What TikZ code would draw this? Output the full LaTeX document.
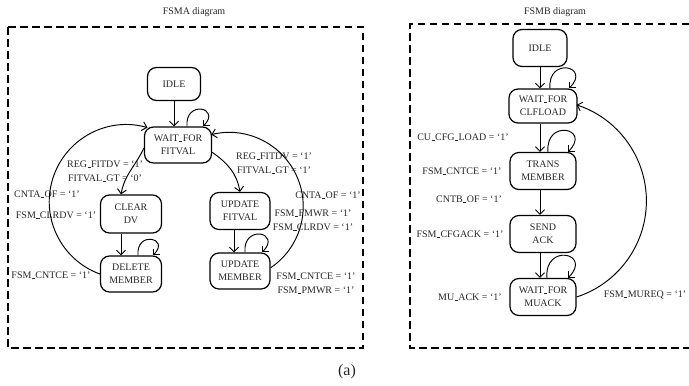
\documentclass[tikz,border=0pt]{standalone}
\usepackage{fontspec}
\setmainfont{Liberation Serif}
\usetikzlibrary{arrows.meta}
\newcommand\us{\kern0.04em\rule[-0.2pt]{0.32em}{0.9pt}\kern0.04em}
\tikzset{
  st/.style={draw, line width=1.2pt, rounded corners=9pt, align=center, inner sep=0pt,
    font=\fontsize{10}{13}\selectfont, text=black!85},
  arr/.style={line width=0.95pt, -{Straight Barb[length=4.5pt,width=9pt]}},
  lbl/.style={font=\fontsize{10}{12}\selectfont, inner sep=0pt, text=black!85},
  dbox/.style={line width=1.1pt, dash pattern=on 7.5pt off 4.5pt},
  lp/.style={out=95, in=45, looseness=4.3}
}
\begin{document}
\begin{tikzpicture}[x=1pt,y=1pt]
\useasboundingbox (0,0) rectangle (689,-386);

% titles
\node[lbl] (tA) at (194,-12) {FSMA diagram};
\node[lbl] (tB) at (555,-12) {FSMB diagram};
\node[font=\fontsize{16}{18}\selectfont, inner sep=0pt, text=black!85] (cap) at (347,-372) {(a)};

% dashed frames
\draw[dbox] (8,-27) rectangle (363,-348);
\draw[dbox] (689,-24) -- (410,-24) -- (410,-348) -- (689,-348);

% ---------- FSMA ----------
\node[st, minimum width=53, minimum height=33] (idleA) at (174,-84) {IDLE};
\node[st, minimum width=67, minimum height=36] (waitA) at (178,-145) {WAIT\us FOR\\FITVAL};
\node[st, minimum width=61, minimum height=38] (clr) at (131,-214) {CLEAR\\DV};
\node[st, minimum width=61, minimum height=36] (delm) at (131,-274) {DELETE\\MEMBER};
\node[st, minimum width=60, minimum height=37] (upf) at (240,-211) {UPDATE\\FITVAL};
\node[st, minimum width=60, minimum height=36] (upm) at (240,-271) {UPDATE\\MEMBER};

\draw[arr] (idleA.south) -- (idleA.south |- waitA.north);
\draw[arr] ([xshift=9pt]waitA.north) to[lp] ([xshift=25pt]waitA.north);
\draw[arr] (waitA.185) to[out=-115, in=80] ([xshift=-10pt]clr.north);
\draw[arr] (waitA.-12) to[out=-35, in=100] (upf.north);
\draw[arr] ([xshift=-10pt]clr.south) -- ([xshift=-10pt]delm.north);
\draw[arr] ([xshift=-6pt]upf.south) -- ([xshift=-6pt]upm.north);
\draw[arr] ([xshift=7pt]delm.north) to[lp] ([xshift=22pt]delm.north);
\draw[arr] ([xshift=5pt]upm.north) to[lp] ([xshift=22pt]upm.north);
\draw[arr] (delm.west) arc[start angle=250, end angle=74, radius=77];
\draw[arr] (upm.6) arc[start angle=-56, end angle=104, radius=74];

\node[lbl] (l1) at (105,-164) {REG\us FITDV = ‘1’};
\node[lbl] (l2) at (105,-178) {FITVAL\us GT = ‘0’};
\node[lbl] (l3) at (47,-194) {CNTA\us OF = ‘1’};
\node[lbl] (l4) at (56,-215) {FSM\us CLRDV = ‘1’};
\node[lbl] (l5) at (51,-275) {FSM\us CNTCE = ‘1’};
\node[lbl] (r1) at (274,-156) {REG\us FITDV = ‘1’};
\node[lbl] (r2) at (274,-170) {FITVAL\us GT = ‘1’};
\node[lbl] (r3) at (328,-195) {CNTA\us OF = ‘1’};
\node[lbl] (r4) at (313,-213) {FSM\us FMWR = ‘1’};
\node[lbl] (r5) at (313,-227) {FSM\us CLRDV = ‘1’};
\node[lbl] (r6) at (316,-276) {FSM\us CNTCE = ‘1’};
\node[lbl] (r7) at (316,-290) {FSM\us PMWR = ‘1’};

% ---------- FSMB ----------
\node[st, minimum width=54, minimum height=37] (idleB) at (540,-48) {IDLE};
\node[st, minimum width=68, minimum height=34] (waitB) at (543,-106) {WAIT\us FOR\\CLFLOAD};
\node[st, minimum width=66, minimum height=37] (trans) at (543,-171) {TRANS\\MEMBER};
\node[st, minimum width=66, minimum height=37] (send) at (543,-234) {SEND\\ACK};
\node[st, minimum width=66, minimum height=37] (waitM) at (543,-297) {WAIT\us FOR\\MUACK};

\draw[arr] (idleB.south) -- (idleB.south |- waitB.north);
\draw[arr] ([xshift=-3pt]waitB.south) -- ([xshift=-3pt]trans.north);
\draw[arr] ([xshift=-3pt]trans.south) -- ([xshift=-3pt]send.north);
\draw[arr] ([xshift=-3pt]send.south) -- ([xshift=-3pt]waitM.north);
\draw[arr] ([xshift=7pt]waitB.north) to[lp] ([xshift=26pt]waitB.north);
\draw[arr] ([xshift=5pt]trans.north) to[lp] ([xshift=25pt]trans.north);
\draw[arr] ([xshift=4pt]waitM.north) to[lp] ([xshift=25pt]waitM.north);
\draw[arr] (waitM.east) arc[start angle=-72, end angle=72, radius=101];

\node[lbl] (b1) at (463,-137) {CU\us CFG\us LOAD = ‘1’};
\node[lbl] (b2) at (462,-171) {FSM\us CNTCE = ‘1’};
\node[lbl] (b3) at (469,-199) {CNTB\us OF = ‘1’};
\node[lbl] (b4) at (460,-234) {FSM\us CFGACK = ‘1’};
\node[lbl] (b5) at (470,-297) {MU\us ACK = ‘1’};
\node[lbl] (b6) at (645,-295) {FSM\us MUREQ = ‘1’};
\end{tikzpicture}
\end{document}
